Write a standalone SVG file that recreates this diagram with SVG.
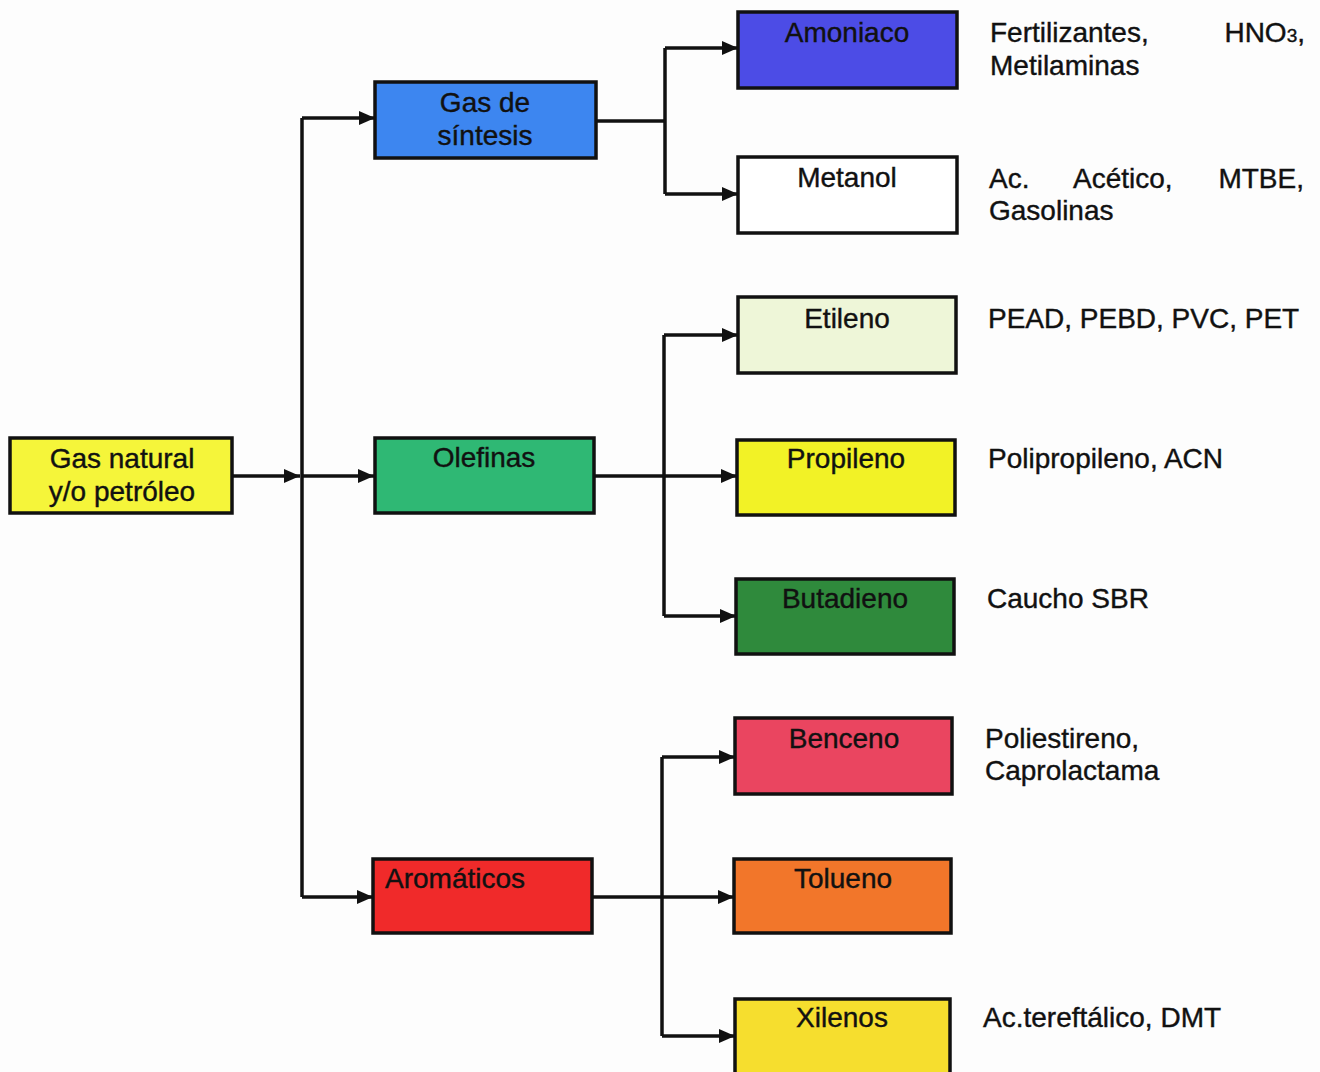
<svg xmlns="http://www.w3.org/2000/svg" width="1320" height="1072" viewBox="0 0 1320 1072">
  <style>
    .box { stroke: #111; stroke-width: 3.5; }
    .lbl { font-family: "Liberation Sans", Arial, sans-serif; font-size: 28px; fill: #111; stroke: #111; stroke-width: 0.4; text-anchor: middle; }
    .txt { font-family: "Liberation Sans", Arial, sans-serif; font-size: 28px; fill: #111; stroke: #111; stroke-width: 0.4; }
    .wire { fill: none; stroke: #111; stroke-width: 3.5; }
    .arr { marker-end: url(#head); }
  </style>
  <defs>
    <marker id="head" markerUnits="userSpaceOnUse" markerWidth="16" markerHeight="14" refX="16" refY="7" orient="auto">
      <path d="M0,0 L16,7 L0,14 z" fill="#111"/>
    </marker>
  </defs>
  <rect width="1320" height="1072" fill="#fdfdfd"/>

  <!-- connectors -->
  <g id="connectors">
    <path class="wire arr" d="M232,476 H300"/>
    <path class="wire" d="M302,118 V897"/>
    <path class="wire arr" d="M302,118 H375"/>
    <path class="wire arr" d="M302,476 H374"/>
    <path class="wire arr" d="M302,897 H373"/>

    <path class="wire" d="M596,121 H665"/>
    <path class="wire" d="M665,48 V194"/>
    <path class="wire arr" d="M665,48 H738"/>
    <path class="wire arr" d="M665,194 H738"/>

    <path class="wire arr" d="M594,476 H737"/>
    <path class="wire" d="M664,335 V616"/>
    <path class="wire arr" d="M664,335 H738"/>
    <path class="wire arr" d="M664,616 H736"/>

    <path class="wire arr" d="M592,897 H734"/>
    <path class="wire" d="M662,757 V1036"/>
    <path class="wire arr" d="M662,757 H735"/>
    <path class="wire arr" d="M662,1036 H735"/>
  </g>

  <!-- source -->
  <g id="gas-natural">
    <rect class="box" x="10" y="438" width="222" height="75" fill="#f5f53a"/>
    <text class="lbl" x="122" y="468">Gas natural</text>
    <text class="lbl" x="122" y="501">y/o petróleo</text>
  </g>

  <!-- intermediate families -->
  <g id="gas-sintesis">
    <rect class="box" x="375" y="82" width="221" height="76" fill="#3d86f0"/>
    <text class="lbl" x="485" y="112">Gas de</text>
    <text class="lbl" x="485" y="145">síntesis</text>
  </g>
  <g id="olefinas">
    <rect class="box" x="375" y="438" width="219" height="75" fill="#2fb874"/>
    <text class="lbl" x="484" y="467">Olefinas</text>
  </g>
  <g id="aromaticos">
    <rect class="box" x="373" y="859" width="219" height="74" fill="#f02a2a"/>
    <text class="txt" x="385" y="888">Aromáticos</text>
  </g>

  <!-- products -->
  <g id="amoniaco">
    <rect class="box" x="738" y="12" width="219" height="76" fill="#4c4ce6"/>
    <text class="lbl" x="847" y="42">Amoniaco</text>
  </g>
  <g id="metanol">
    <rect class="box" x="738" y="157" width="219" height="76" fill="#ffffff"/>
    <text class="lbl" x="847" y="187">Metanol</text>
  </g>
  <g id="etileno">
    <rect class="box" x="738" y="297" width="218" height="76" fill="#eef6d8"/>
    <text class="lbl" x="847" y="328">Etileno</text>
  </g>
  <g id="propileno">
    <rect class="box" x="737" y="440" width="218" height="75" fill="#f2f226"/>
    <text class="lbl" x="846" y="468">Propileno</text>
  </g>
  <g id="butadieno">
    <rect class="box" x="736" y="579" width="218" height="75" fill="#2f8a3c"/>
    <text class="lbl" x="845" y="608">Butadieno</text>
  </g>
  <g id="benceno">
    <rect class="box" x="735" y="718" width="217" height="76" fill="#ea4560"/>
    <text class="lbl" x="844" y="748">Benceno</text>
  </g>
  <g id="tolueno">
    <rect class="box" x="734" y="859" width="217" height="74" fill="#f2762a"/>
    <text class="lbl" x="843" y="888">Tolueno</text>
  </g>
  <g id="xilenos">
    <rect class="box" x="735" y="999" width="215" height="80" fill="#f6de2e"/>
    <text class="lbl" x="842" y="1027">Xilenos</text>
  </g>

  <!-- derivative uses -->
  <g id="usos">
    <text class="txt" x="990" y="42">Fertilizantes,</text>
    <text class="txt" x="1305" y="42" text-anchor="end">HNO<tspan font-size="19">3</tspan>,</text>
    <text class="txt" x="990" y="75">Metilaminas</text>

    <text class="txt" x="989" y="188">Ac.</text>
    <text class="txt" x="1073" y="188">Acético,</text>
    <text class="txt" x="1304" y="188" text-anchor="end">MTBE,</text>
    <text class="txt" x="989" y="220">Gasolinas</text>

    <text class="txt" x="988" y="328">PEAD, PEBD, PVC, PET</text>
    <text class="txt" x="988" y="468">Polipropileno, ACN</text>
    <text class="txt" x="987" y="608">Caucho SBR</text>

    <text class="txt" x="985" y="748">Poliestireno,</text>
    <text class="txt" x="985" y="780">Caprolactama</text>

    <text class="txt" x="983" y="1027">Ac.tereftálico, DMT</text>
  </g>
</svg>
